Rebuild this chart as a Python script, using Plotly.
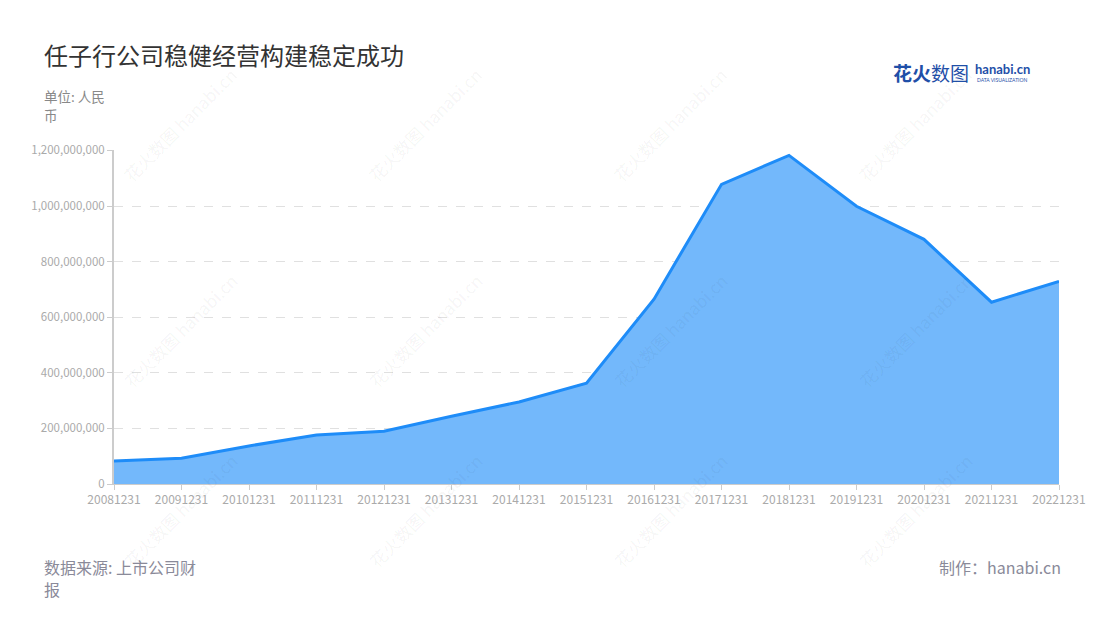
import plotly.graph_objects as go

years = ["20081231", "20091231", "20101231", "20111231", "20121231", "20131231", "20141231",
         "20151231", "20161231", "20171231", "20181231", "20191231", "20201231", "20211231", "20221231"]
revenue = [83e6, 93e6, 137e6, 176e6, 190e6, 244e6, 295e6, 363e6, 665e6, 1078e6, 1182e6,
           999e6, 880e6, 654e6, 729e6]
y_ticks = [0, 200e6, 400e6, 600e6, 800e6, 1000e6, 1200e6]
y_tick_labels = ["0", "200,000,000", "400,000,000", "600,000,000", "800,000,000",
                 "1,000,000,000", "1,200,000,000"]

FONT = "Noto Sans CJK SC"

fig = go.Figure()
fig.add_trace(go.Scatter(
    x=years, y=revenue, mode="lines", fill="tozeroy",
    line=dict(color="#1e8cf8", width=3),
    fillcolor="rgba(115,184,251,1)",
    hoverinfo="x+y", showlegend=False,
))

fig.update_layout(
    width=1100, height=620,
    paper_bgcolor="white", plot_bgcolor="white",
    margin=dict(l=106, r=49, t=142, b=144),
    font=dict(family=FONT, color="#999"),
    xaxis=dict(
        type="category", range=[0, len(years) - 1],
        showgrid=False, showline=True, linecolor="#ccc", linewidth=1,
        ticks="outside", ticklen=5, tickcolor="#ccc",
        tickfont=dict(size=12, color="#aaa", family=FONT),
        zeroline=False,
    ),
    yaxis=dict(
        range=[0, 1201.5e6], tickvals=y_ticks, ticktext=y_tick_labels,
        showgrid=True, gridcolor="#e0e0e0", griddash="dash", gridwidth=1,
        showline=True, linecolor="#ccc", linewidth=2,
        ticks="outside", ticklen=5, tickcolor="#ccc",
        tickfont=dict(size=11.5, color="#aaa", family=FONT),
        zeroline=False,
    ),
)

# positions below are in reference-screenshot pixels; plot area spans x 114..1059, y 150..484
def px(x):
    return (x - 114) / (1059 - 114)

def py(y):
    return (484 - y) / (484 - 150)

texts = [
    ("任子行公司稳健经营构建稳定成功", 43, 55, dict(size=24, color="#333", family=FONT)),
    ("单位: 人民", 43, 96, dict(size=13.5, color="#888", family=FONT)),
    ("币", 43, 115, dict(size=13.5, color="#888", family=FONT)),
    ("数据来源: 上市公司财", 43, 567, dict(size=16, color="#8a8a99", family=FONT)),
    ("报", 43, 589, dict(size=16, color="#8a8a99", family=FONT)),
]
anns = []
for t, x, y, f in texts:
    anns.append(dict(text=t, x=px(x), y=py(y), xref="paper", yref="paper", borderpad=0,
                     xanchor="left", yanchor="middle", showarrow=False, align="left", font=f))
anns.append(dict(text="制作：hanabi.cn", x=px(1062), y=py(567), xref="paper", yref="paper",
                 xanchor="right", yanchor="middle", showarrow=False, borderpad=0,
                 font=dict(size=16, color="#8a8a99", family=FONT)))
# logo
anns.append(dict(text="<b>花火</b>数图", x=px(891), y=py(72), xref="paper", yref="paper",
                 xanchor="left", yanchor="middle", showarrow=False,
                 font=dict(size=19, color="#1f4fa8", family=FONT)))
anns.append(dict(text="<b>hanabi.cn</b>", x=px(973), y=py(69), xref="paper", yref="paper",
                 xanchor="left", yanchor="middle", showarrow=False,
                 font=dict(size=13, color="#1f4fa8", family="Lato")))
anns.append(dict(text="DATA VISUALIZATION", x=px(975), y=py(80), xref="paper", yref="paper",
                 xanchor="left", yanchor="middle", showarrow=False,
                 font=dict(size=5, color="#1f4fa8", family="Lato")))
# watermarks
for cx in [180, 425, 670, 915]:
    for cy in [125, 330, 510]:
        anns.append(dict(text="花火数图 hanabi.cn", x=px(cx), y=py(cy), xref="paper", yref="paper",
                         xanchor="center", yanchor="middle", showarrow=False, textangle=-45,
                         font=dict(size=17, color="rgba(0,0,0,0.05)", family=FONT)))
fig.update_layout(annotations=anns)

fig.write_html("out.html")
